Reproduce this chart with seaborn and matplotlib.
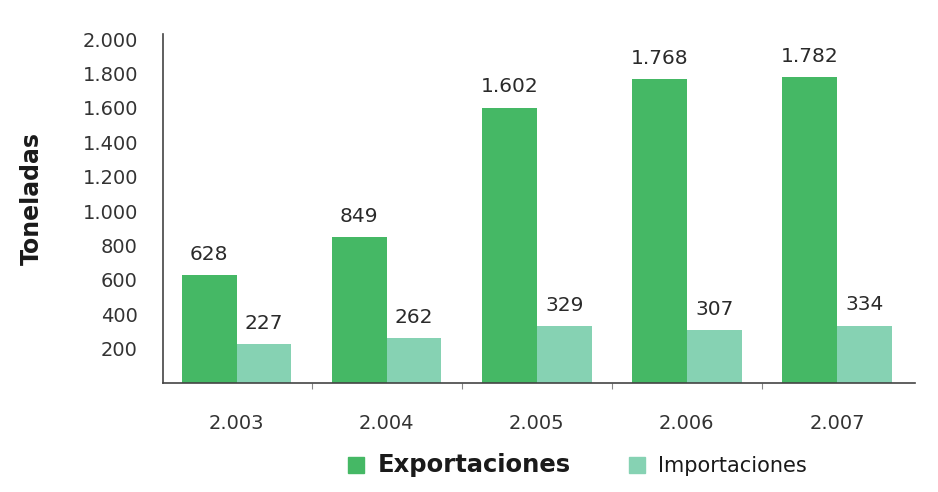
import matplotlib
matplotlib.use("Agg")
import matplotlib.pyplot as plt
from matplotlib.lines import Line2D
from matplotlib.ticker import FixedLocator
import seaborn as sns
import pandas as pd

# Toneladas exportadas e importadas por año
years = ["2.003", "2.004", "2.005", "2.006", "2.007"]
exportaciones = [628, 849, 1602, 1768, 1782]
importaciones = [227, 262, 329, 307, 334]
series_names = ["Exportaciones", "Importaciones"]
y_ticks = [200, 400, 600, 800, 1000, 1200, 1400, 1600, 1800, 2000]

colors = {"Exportaciones": "#45b865", "Importaciones": "#86d2b3"}

df = pd.DataFrame({
    "year": years * 2,
    "serie": [series_names[0]] * len(years) + [series_names[1]] * len(years),
    "toneladas": exportaciones + importaciones,
})

def miles(v):
    return f"{int(v):,}".replace(",", ".")

sns.set_theme(style="white")
plt.rcParams["font.family"] = ["DejaVu Sans"]

fig = plt.figure(figsize=(9.38, 4.92), dpi=100)
ax = fig.add_axes([163 / 938, 109 / 492, 752 / 938, 349 / 492])

sns.barplot(data=df, x="year", y="toneladas", hue="serie", order=years,
            hue_order=series_names, palette=colors, width=0.73, gap=0,
            saturation=1, legend=False, linewidth=0, ax=ax)

for cont in ax.containers:
    ax.bar_label(cont, labels=[miles(b.get_height()) for b in cont],
                 padding=8, fontsize=14.5, color="#2a2a2a")

ax.set_xlim(-0.49, 4.52)
ax.set_ylim(0, 2030)
ax.set_yticks(y_ticks)
ax.set_yticklabels([miles(v) for v in y_ticks])
ax.xaxis.set_minor_locator(FixedLocator([0.5, 1.5, 2.5, 3.5]))
ax.tick_params(axis="y", length=0, pad=18, labelsize=14, labelcolor="#333333")
ax.tick_params(axis="x", which="major", length=0, pad=22, labelsize=14,
               labelcolor="#333333")
ax.tick_params(axis="x", which="minor", bottom=True, length=4, width=0.8,
               color="#888888", direction="out")

ax.set_xlabel("")
ax.set_ylabel("Toneladas", fontsize=17, fontweight="bold", color="#1a1a1a")
ax.yaxis.set_label_coords(-0.158, 0.53)

for side in ["top", "right"]:
    ax.spines[side].set_visible(False)
for side in ["left", "bottom"]:
    ax.spines[side].set_color("#444444")
    ax.spines[side].set_linewidth(1.2)

handles = [Line2D([], [], marker="s", linestyle="", markersize=11,
                  color=colors[s]) for s in series_names]
leg = fig.legend(handles, series_names, loc="center",
                 bbox_to_anchor=(577 / 938, 1 - 465 / 492), ncol=2,
                 frameon=False, handletextpad=0.6, columnspacing=2.9,
                 handlelength=1.0, fontsize=14)
texts = leg.get_texts()
texts[0].set_fontsize(17.5)
texts[0].set_fontweight("bold")
texts[0].set_color("#1a1a1a")
texts[1].set_fontsize(15)
texts[1].set_color("#1a1a1a")

fig.savefig("out.png", dpi=100, facecolor="white")
